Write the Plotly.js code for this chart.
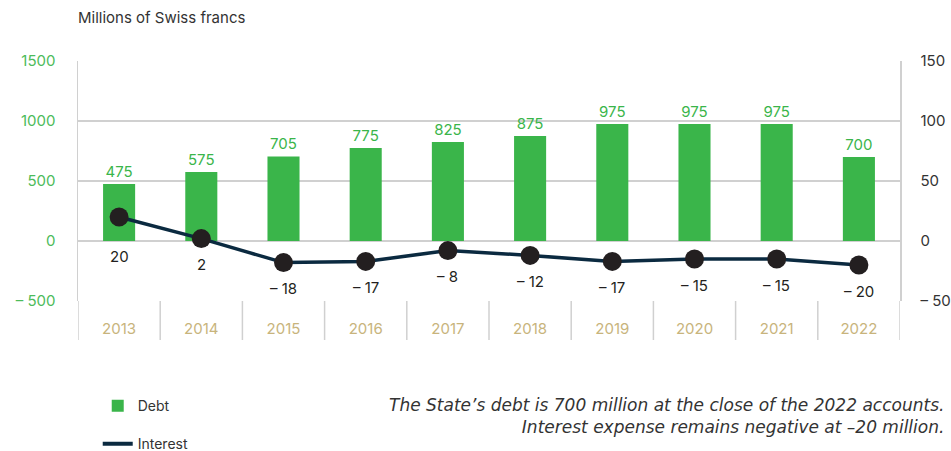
<!DOCTYPE html>
<html><head><meta charset="utf-8">
<script src="https://cdn.plot.ly/plotly-3.0.1.min.js"></script>
<style>html,body{margin:0;padding:0;background:#fff}</style>
</head><body>
<div id="chart" style="width:951px;height:451px"></div>
<script>
const years = ['2013','2014','2015','2016','2017','2018','2019','2020','2021','2022'];
const debt = [475, 575, 705, 775, 825, 875, 975, 975, 975, 700];
const interest = [20, 2, -18, -17, -8, -12, -17, -15, -15, -20];
const leftTickVals = [-500, 0, 500, 1000, 1500];
const leftTickText = ['\u2013 500', '0', '500', '1000', '1500'];
const rightTickVals = [-50, 0, 50, 100, 150];
const rightTickText = ['\u2013 50', '0', '50', '100', '150'];
const titleText = 'Millions of Swiss francs';
const noteText = 'The State\u2019s debt is 700 million at the close of the 2022 accounts.<br>Interest expense remains negative at \u201320 million.';

const fmt = v => v < 0 ? '\u2013 ' + Math.abs(v) : String(v);
const FONT = 'Inter, "Open Sans", sans-serif';

const traces = [
  {
    type: 'bar', name: 'Debt', x: years, y: debt, yaxis: 'y',
    marker: {color: '#3ab54a'}, width: 0.39,
    text: debt.map(String), textposition: 'outside', cliponaxis: false,
    textfont: {color: '#3ab54a', size: 15, family: FONT},
    legendgroup: 'a'
  },
  {
    type: 'scatter', mode: 'lines+markers', name: 'Interest', x: years, y: interest, yaxis: 'y2',
    line: {color: '#0b2a40', width: 3.5},
    marker: {color: '#231f20', size: 19},
    cliponaxis: false, showlegend: false
  },
  {
    type: 'scatter', mode: 'lines', name: 'Interest', x: [null], y: [null], yaxis: 'y2',
    line: {color: '#0b2a40', width: 4},
    legendgroup: 'b', showlegend: true
  }
];

// category boundary dividers below the plot area
const shapes = years.map((_, i) => i - 0.5).concat([years.length - 0.5]).map(b => ({
  type: 'line', xref: 'x', yref: 'paper', x0: b, x1: b, y0: 0, y1: -39/240,
  line: {color: '#d0d0d0', width: 1.5}
}));

// interest value labels below each marker (pushed below the zero line when positive)
const interestLabels = interest.map((v, i) => ({
  x: i, y: v, xref: 'x', yref: 'y2', text: fmt(v), showarrow: false,
  yanchor: 'middle', yshift: v > 10 ? -39 : -26,
  font: {color: '#231f20', size: 15, family: FONT}
}));

const layout = {
  width: 951, height: 451,
  margin: {l: 78, r: 51, t: 61, b: 150, autoexpand: false},
  paper_bgcolor: '#fff', plot_bgcolor: '#fff',
  font: {family: FONT, size: 15, color: '#333'},
  title: {text: titleText, x: 78/951, xanchor: 'left', xref: 'container', y: 1 - 18/451, yanchor: 'middle', yref: 'container',
          font: {size: 15, color: '#333', family: FONT}, automargin: false},
  showlegend: true,
  legend: {orientation: 'v', x: 0.024, xanchor: 'left', y: -0.371, yanchor: 'top',
           font: {size: 14, color: '#333', family: FONT}, tracegroupgap: 17, bgcolor: 'rgba(0,0,0,0)'},
  xaxis: {
    type: 'category', range: [-0.5, years.length - 0.5], automargin: false,
    ticks: 'outside', ticklen: 14, tickcolor: 'rgba(0,0,0,0)',
    showgrid: false, showline: false, zeroline: false, fixedrange: true,
    tickfont: {color: '#c8b47c', size: 15, family: FONT}
  },
  yaxis: {
    range: [-500, 1500], tickvals: leftTickVals, ticktext: leftTickText, automargin: false,
    showgrid: true, gridcolor: '#d0d0d0', gridwidth: 1.5, zeroline: false,
    showline: true, linecolor: '#d0d0d0', linewidth: 1.5,
    ticks: 'outside', ticklen: 18, tickcolor: 'rgba(0,0,0,0)',
    tickfont: {color: '#4cbb5a', size: 15, family: FONT}
  },
  yaxis2: {
    range: [-50, 150], tickvals: rightTickVals, ticktext: rightTickText, automargin: false,
    overlaying: 'y', side: 'right', showgrid: false, zeroline: false,
    showline: true, linecolor: '#d0d0d0', linewidth: 1.5,
    ticks: 'outside', ticklen: 16, tickcolor: 'rgba(0,0,0,0)',
    tickfont: {color: '#333', size: 15, family: FONT}
  },
  shapes: shapes,
  annotations: interestLabels.concat([{
    text: noteText, xref: 'paper', yref: 'paper', x: (946-78)/822, xanchor: 'right', y: (301-416)/240, yanchor: 'middle',
    align: 'right', showarrow: false,
    font: {family: '"DejaVu Sans", sans-serif', size: 17, color: '#333', style: 'italic'}
  }])
};

Plotly.newPlot('chart', traces, layout, {displayModeBar: false, staticPlot: true});
</script>
</body></html>
